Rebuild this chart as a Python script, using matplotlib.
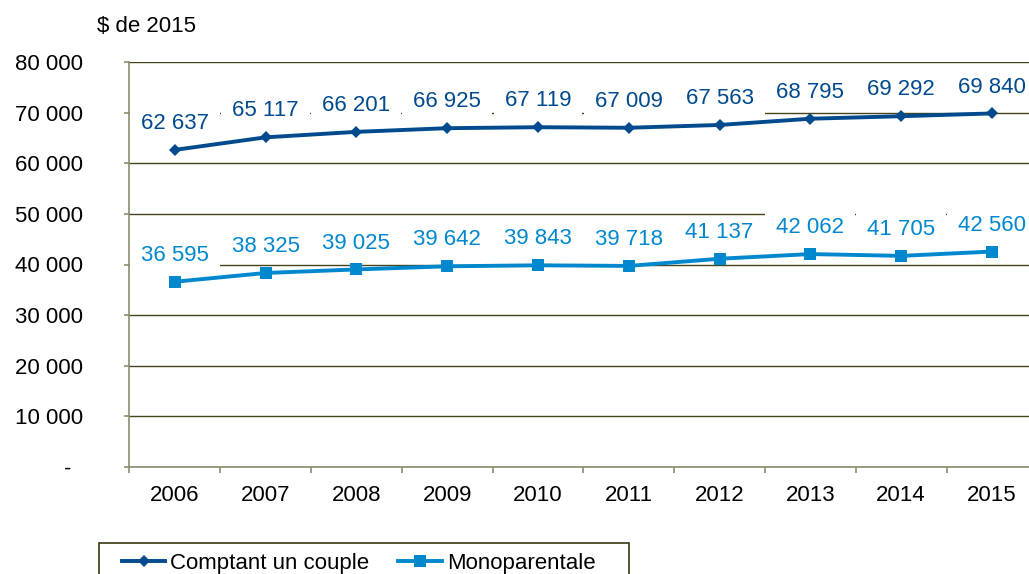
import numpy as np
import matplotlib
matplotlib.use('Agg')
import matplotlib.pyplot as plt
from matplotlib.path import Path
from matplotlib.patches import Rectangle

# data
years = ['2006', '2007', '2008', '2009', '2010', '2011', '2012', '2013', '2014', '2015']
couple = [62637, 65117, 66201, 66925, 67119, 67009, 67563, 68795, 69292, 69840]
mono = [36595, 38325, 39025, 39642, 39843, 39718, 41137, 42062, 41705, 42560]
y_ticks = [0, 10000, 20000, 30000, 40000, 50000, 60000, 70000, 80000]
y_labels = ['-  ', '10 000', '20 000', '30 000', '40 000', '50 000', '60 000', '70 000', '80 000']

W, H = 1029, 574
c_couple = '#004A8D'
c_mono = '#0088CE'
grid_c = '#45451a'
axis_c = '#8c8c70'

plt.rcParams['font.family'] = ['Liberation Sans', 'DejaVu Sans']
plt.rcParams['font.size'] = 16


def fmt(v):
    return f'{v:,}'.replace(',', ' ')


def wide_box(x0, y0, width, height, mutation_size):
    # white label background, wider than tall (like Excel)
    px = 0.5 * mutation_size
    py = 0.28 * mutation_size
    x0, y0 = x0 - px, y0 - py
    x1, y1 = x0 + width + 2 * px, y0 + height + 2 * py
    return Path([(x0, y0), (x1, y0), (x1, y1), (x0, y1), (x0, y0)],
                [Path.MOVETO, Path.LINETO, Path.LINETO, Path.LINETO, Path.CLOSEPOLY])


fig = plt.figure(figsize=(W / 100, H / 100), dpi=100)
ax = fig.add_axes([129.3 / W, (H - 467) / H, (1037.4 - 129.3) / W, (467 - 62) / H])

x = np.arange(len(years))
ax.plot(x, couple, color=c_couple, lw=2.8, marker='D', ms=6.2, mew=0, label='Comptant un couple', zorder=2)
ax.plot(x, mono, color=c_mono, lw=2.8, marker='s', ms=8.5, mew=0, label='Monoparentale', zorder=2)

for series, col in [(couple, c_couple), (mono, c_mono)]:
    for i, v in enumerate(series):
        ax.annotate(fmt(v), (i, v), xytext=(0, 19), textcoords='offset points',
                    ha='center', va='center', color=col, fontsize=16, zorder=3,
                    bbox=dict(boxstyle=wide_box, fc='white', ec='none'))

ax.set_xlim(-0.5, len(years) - 0.5)
ax.set_ylim(0, 80000)
ax.set_yticks(y_ticks)
ax.set_yticklabels(y_labels)
ax.yaxis.grid(True, color=grid_c, lw=1)
ax.set_axisbelow(True)

# ticks at category boundaries, labels at centres
ax.set_xticks(np.arange(-0.5, len(years) + 0.5, 1))
ax.set_xticklabels([])
ax.set_xticks(x, minor=True)
ax.set_xticklabels(years, minor=True)
ax.tick_params(axis='x', which='major', direction='out', length=4.5, color=axis_c, width=1.2)
ax.tick_params(axis='x', which='minor', length=0, pad=13, labelsize=16)
ax.tick_params(axis='y', direction='out', length=3.6, color=axis_c, width=1.2, pad=29.5, labelsize=16)

for s in ['top', 'right']:
    ax.spines[s].set_visible(False)
for s in ['left', 'bottom']:
    ax.spines[s].set_color(axis_c)
    ax.spines[s].set_linewidth(1.2)

fig.text(97 / W, 1 - 27 / H, '$ de 2015', fontsize=16, va='center', ha='left')

# legend with a frame that runs off the bottom of the picture
fig.patches.append(Rectangle((99 / W, -0.05), (629 - 99) / W, 0.05 + (H - 543) / H,
                             transform=fig.transFigure, fc='white', ec='#3a3a10', lw=1.2))
fig.legend(loc='center left', bbox_to_anchor=(122 / W, 1 - 563 / H), ncol=2, frameon=False,
           borderpad=0, borderaxespad=0, handlelength=1.95, handletextpad=0.23, columnspacing=1.3,
           fontsize=16)

plt.savefig('out.png', dpi=100)
